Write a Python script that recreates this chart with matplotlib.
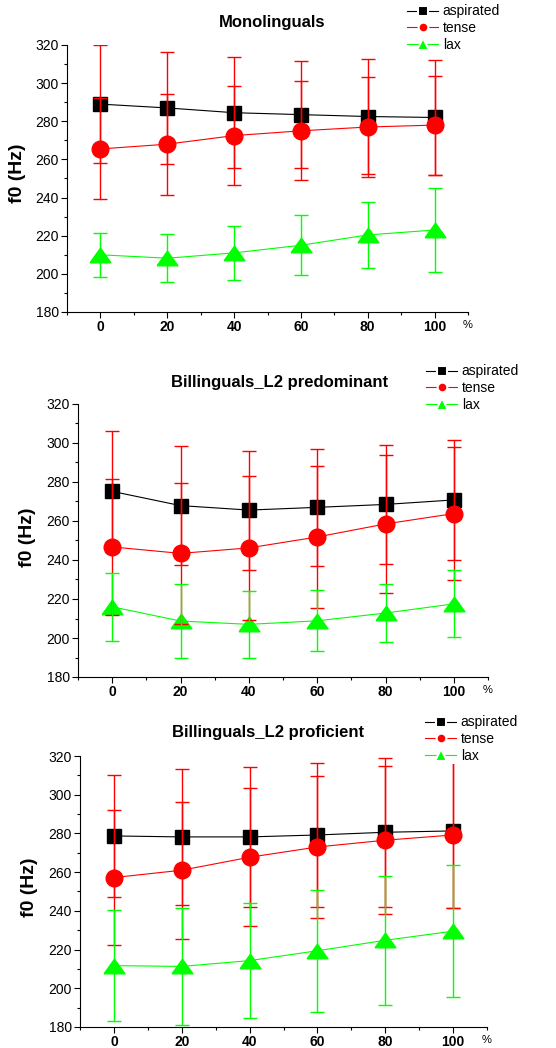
#!/usr/bin/env python

import numpy as np
from matplotlib import pyplot as plt
from matplotlib.lines import Line2D
from matplotlib.ticker import MultipleLocator

""" f0 over the vowel for three speaker groups """

plt.rcParams['font.family'] = ['Liberation Sans', 'DejaVu Sans']

steps = [0, 20, 40, 60, 80, 100]    # % of vowel duration
labels = ["aspirated", "tense", "lax"]
titles = ["Monolinguals", "Billinguals_L2 predominant", "Billinguals_L2 proficient"]

# Monolinguals
asp_m1 = [289, 287, 284.5, 283.5, 282.5, 282]
asp_e1 = [31, 29.5, 29, 28, 30, 30]
ten_m1 = [265.5, 268, 272.5, 275, 277, 278]
ten_e1 = [26.5, 26.5, 26, 26, 26, 26]
lax_m1 = [210, 208.2, 211, 215, 220.4, 223]
lax_e1 = [11.5, 12.5, 14, 15.7, 17.5, 22]

# Billinguals_L2 predominant
asp_m2 = [275.2, 267.9, 265.6, 267, 268.5, 270.8]
asp_e2 = [31, 30.4, 30.5, 30, 30.3, 30.6]
ten_m2 = [246.7, 243.4, 246.2, 251.8, 258.5, 263.8]
ten_e2 = [35, 36, 37, 36.4, 35.2, 34]
lax_m2 = [216, 208.7, 207, 208.8, 212.8, 217.5]
lax_e2 = [17.4, 19, 17.3, 15.6, 15, 17.2]

# Billinguals_L2 proficient
asp_m3 = [278.7, 278.2, 278.2, 279.2, 280.6, 281.3]
asp_e3 = [31.3, 35.1, 36.3, 37, 38.4, 39.6]
ten_m3 = [257.2, 261, 267.7, 273, 276.5, 279.2]
ten_e3 = [34.8, 35.4, 35.6, 36.7, 38.2, 37.8]
lax_m3 = [211.7, 211.3, 214.3, 219.4, 224.8, 229.5]
lax_e3 = [28.8, 30.1, 29.7, 31.5, 33.3, 34]

RED = "#ff0000"
GREEN = "#00ff00"
W, H = 556, 1048

# wide flat triangle like the Origin one
TRI = [(-1, -0.7), (1, -0.7), (0, 0.7), (-1, -0.7)]


def px(x, y):
    """ pixel position -> figure fraction """
    return x / W, 1 - y / H


def panel(fig, box, data, title, title_xy, ylab_xy, leg_xy):
    """ one of the three plots """
    left, top, right, bottom = box
    ax = fig.add_axes([left / W, 1 - bottom / H, (right - left) / W, (bottom - top) / H])
    (am, ae), (tm, te), (lm, le) = data
    # lines + markers first
    ax.plot(steps, am, '-', color='black', lw=0.8, marker='s', ms=10.5, zorder=2)
    ax.plot(steps, tm, '-', color=RED, lw=0.8, marker='o', ms=12, zorder=2)
    ax.plot(steps, lm, '-', color=GREEN, lw=0.8, marker=TRI, ms=15, zorder=2)
    # error bars drawn over the markers (aspirated bars are red in the original)
    for m, e, c in [(am, ae, RED), (tm, te, RED), (lm, le, GREEN)]:
        ax.errorbar(steps, m, yerr=e, fmt='none', ecolor=c, elinewidth=1.0,
                    capsize=5, capthick=1.0, zorder=3)

    ax.set_xlim(-10, 110)
    ax.set_ylim(180, 320)
    ax.set_xticks(steps)
    ax.xaxis.set_minor_locator(MultipleLocator(10))
    ax.yaxis.set_major_locator(MultipleLocator(20))
    ax.yaxis.set_minor_locator(MultipleLocator(10))
    ax.spines['top'].set_visible(False)
    ax.spines['right'].set_visible(False)
    ax.tick_params(which='both', direction='out', width=0.8)
    ax.tick_params(which='major', length=4, labelsize=10, pad=2)
    ax.tick_params(which='minor', length=2.5)
    for t in ax.get_xticklabels():
        t.set_fontweight('bold')
    ax.annotate('%', xy=(1, 0), xycoords='axes fraction', xytext=(0, -9.5),
                textcoords='offset points', ha='center', va='center', fontsize=8)

    fig.text(*px(*title_xy), title, ha='center', va='center', fontsize=12, fontweight='bold')
    fig.text(*px(*ylab_xy), "f0 (Hz)", ha='center', va='center', rotation=90,
             fontsize=14, fontweight='bold')

    # legend handles: line - gap - marker - gap - line
    handles = [Line2D([], [], color='black', lw=0.8, marker='s', ms=6.5, mec='white', mew=1.5),
               Line2D([], [], color=RED, lw=0.8, marker='o', ms=7, mec='white', mew=1.5),
               Line2D([], [], color=GREEN, lw=0.8, marker='^', ms=8, mec='white', mew=1.5)]
    leg = ax.legend(handles, labels, loc='upper left', bbox_to_anchor=px(*leg_xy),
                    bbox_transform=fig.transFigure, fontsize=10, frameon=True,
                    handlelength=2.2, handletextpad=0.35, labelspacing=0.2,
                    borderpad=0.1, borderaxespad=0)
    leg.get_frame().set_facecolor('white')
    leg.get_frame().set_edgecolor('none')
    leg.get_frame().set_alpha(1)
    leg.set_zorder(10)
    return ax


def main():
    """ main body """
    fig = plt.figure(figsize=(W / 100, H / 100), dpi=100)
    panel(fig, (67, 45, 468, 312), [(asp_m1, asp_e1), (ten_m1, ten_e1), (lax_m1, lax_e1)],
          titles[0], (272, 23), (17, 173), (406, 3))
    panel(fig, (78, 404, 488, 677), [(asp_m2, asp_e2), (ten_m2, ten_e2), (lax_m2, lax_e2)],
          titles[1], (280, 382), (28, 537), (425, 363))
    panel(fig, (80, 756, 487, 1027), [(asp_m3, asp_e3), (ten_m3, ten_e3), (lax_m3, lax_e3)],
          titles[2], (268, 733), (29, 887), (424, 714))
    plt.savefig("out.png", dpi=100)


if __name__ == '__main__':
    main()
